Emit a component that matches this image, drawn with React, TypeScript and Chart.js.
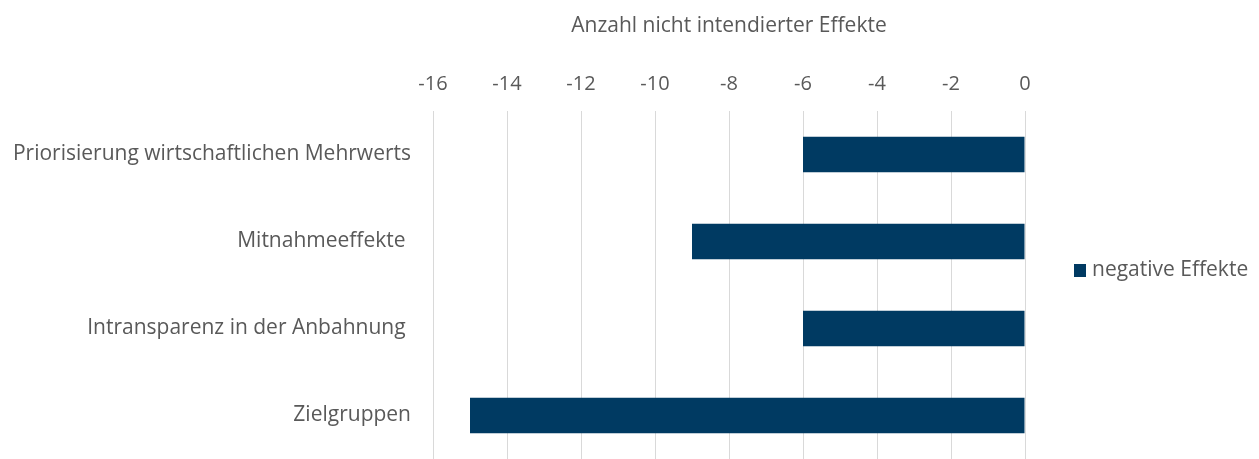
import React, { useEffect, useRef } from "react";
import { Chart, registerables } from "chart.js";

Chart.register(...registerables);

const categories = [
  "Priorisierung wirtschaftlichen Mehrwerts",
  "Mitnahmeeffekte ",
  "Intransparenz in der Anbahnung ",
  "Zielgruppen",
];
const negativeEffekte = [-6, -9, -6, -15];
const seriesLabel = "negative Effekte";
const axisTitle = "Anzahl nicht intendierter Effekte";
const xMin = -16;
const xMax = 0;
const xStep = 2;

const FONT = "'Open Sans', 'DejaVu Sans', sans-serif";
const GRAY = "#595959";
const BAR = "#003A62";

const sideLegend = {
  id: "sideLegend",
  afterDraw(chart: any) {
    const ctx = chart.ctx;
    const area = chart.chartArea;
    const ds = chart.data.datasets[0];
    const x = area.right + 49;
    const cy = 270;
    ctx.save();
    ctx.fillStyle = ds.backgroundColor;
    ctx.fillRect(x, cy - 6, 12, 13);
    ctx.fillStyle = GRAY;
    ctx.font = `21px ${FONT}`;
    ctx.textBaseline = "middle";
    ctx.textAlign = "left";
    ctx.fillText(ds.label, x + 18, cy);
    ctx.restore();
  },
};

export default function App() {
  const ref = useRef<HTMLCanvasElement | null>(null);
  useEffect(() => {
    if (!ref.current) return;
    const chart = new Chart(ref.current, {
      type: "bar",
      data: {
        labels: categories,
        datasets: [
          {
            label: seriesLabel,
            data: negativeEffekte,
            backgroundColor: BAR,
            borderWidth: 0,
            categoryPercentage: 1,
            barPercentage: 0.41,
          },
        ],
      },
      options: {
        indexAxis: "y",
        animation: false,
        responsive: false,
        maintainAspectRatio: false,
        devicePixelRatio: 1,
        layout: { padding: { left: 0, right: 234, top: 0, bottom: -4 } },
        plugins: {
          legend: { display: false },
          tooltip: { enabled: false },
        },
        scales: {
          x: {
            position: "top",
            min: xMin,
            max: xMax,
            ticks: {
              stepSize: xStep,
              color: GRAY,
              font: { family: FONT, size: 20 },
              padding: 15,
            },
            grid: { color: "#d9d9d9", lineWidth: 1, drawTicks: false },
            border: { display: false },
            title: {
              display: true,
              text: axisTitle,
              color: GRAY,
              font: { family: FONT, size: 21 },
              padding: { top: 13, bottom: 0 },
            },
            afterFit(scale: any) {
              scale.height = 111;
              scale.paddingLeft = 0;
              scale.paddingRight = 0;
            },
          },
          y: {
            grid: { display: false, drawTicks: false },
            border: { display: false },
            ticks: {
              color: GRAY,
              font: { family: FONT, size: 21 },
              padding: 22,
            },
            afterFit(scale: any) {
              scale.width = 433;
              scale.paddingTop = 0;
              scale.paddingBottom = -4;
            },
          },
        },
      },
      plugins: [sideLegend],
    });
    return () => chart.destroy();
  }, []);
  return (
    <div style={{ position: "fixed", left: 0, top: 0, width: 1259, height: 459, background: "#fff" }}>
      <canvas ref={ref} width={1259} height={459} style={{ display: "block" }} />
    </div>
  );
}
